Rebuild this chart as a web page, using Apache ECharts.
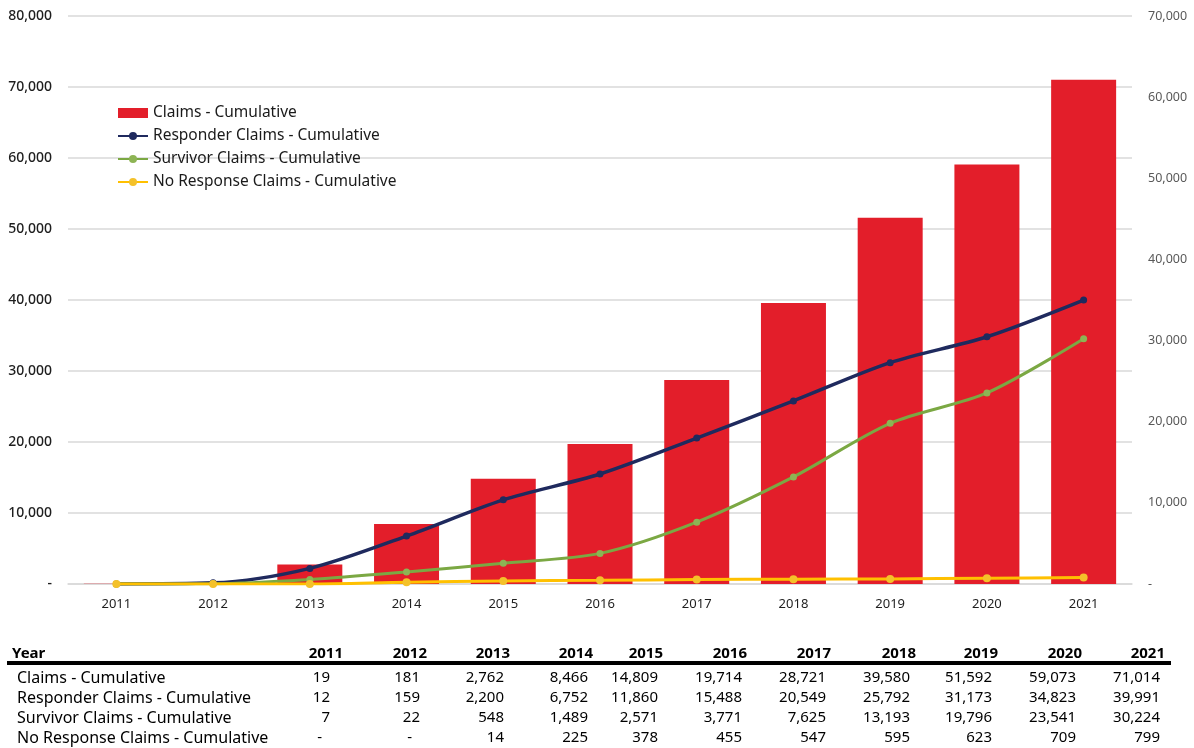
<!DOCTYPE html>
<html>
<head>
<meta charset="utf-8">
<script src="https://cdn.jsdelivr.net/npm/echarts@6/dist/echarts.min.js"></script>
<style>
  html, body { margin: 0; padding: 0; background: #ffffff; }
  #chart { width: 1194px; height: 748px; }
</style>
</head>
<body>
<div id="chart"></div>
<script>
// ---- data ----
const years = ['2011','2012','2013','2014','2015','2016','2017','2018','2019','2020','2021'];
const claimsCumulative = [19, 181, 2762, 8466, 14809, 19714, 28721, 39580, 51592, 59073, 71014];
const responderCumulative = [12, 159, 2200, 6752, 11860, 15488, 20549, 25792, 31173, 34823, 39991];
const survivorCumulative = [7, 22, 548, 1489, 2571, 3771, 7625, 13193, 19796, 23541, 30224];
const noResponseCumulative = [0, 0, 14, 225, 378, 455, 547, 595, 623, 709, 799];
const seriesNames = ['Claims - Cumulative', 'Responder Claims - Cumulative', 'Survivor Claims - Cumulative', 'No Response Claims - Cumulative'];
const tableHeader = 'Year';

// ---- layout / style (not data) ----
const FONT = 'Noto Sans';
const headerRight = [343, 427, 510, 593, 663, 747, 831, 916, 998, 1082, 1165];
const dataRight = [330, 420, 504, 588, 658, 742, 826, 910, 992, 1076, 1160];
const rowY = [678, 698, 718, 738];
const headerY = 654;

function fmt(v) { return v === 0 ? '-' : v.toLocaleString('en-US'); }

const tableRows = [claimsCumulative, responderCumulative, survivorCumulative, noResponseCumulative];
const graphics = [];
graphics.push({ type: 'text', x: 12, y: headerY, style: { text: tableHeader, font: 'bold 15px "' + FONT + '"', fill: '#000', align: 'left', verticalAlign: 'middle' } });
years.forEach((y, i) => {
  graphics.push({ type: 'text', x: headerRight[i], y: headerY, style: { text: y, font: 'bold 15px "' + FONT + '"', fill: '#000', align: 'right', verticalAlign: 'middle' } });
});
graphics.push({ type: 'line', shape: { x1: 7, y1: 663, x2: 1171, y2: 663 }, style: { stroke: '#000', lineWidth: 4 } });
tableRows.forEach((row, r) => {
  graphics.push({ type: 'text', x: 17, y: rowY[r], style: { text: seriesNames[r], font: '16px "' + FONT + '"', fill: '#000', align: 'left', verticalAlign: 'middle' } });
  row.forEach((v, i) => {
    const isDash = v === 0;
    graphics.push({ type: 'text', x: dataRight[i] - (isDash ? 8 : 0), y: rowY[r], style: { text: fmt(v), font: '15px "' + FONT + '"', fill: '#000', align: 'right', verticalAlign: 'middle' } });
  });
});

const chart = echarts.init(document.getElementById('chart'), null, { renderer: 'canvas' });
chart.setOption({
  animation: false,
  backgroundColor: '#ffffff',
  textStyle: { fontFamily: FONT },
  grid: { left: 68, right: 62, top: 16, bottom: 164, containLabel: false },
  legend: {
    orient: 'vertical', left: 112, top: 100,
    itemWidth: 30, itemHeight: 10, itemGap: 7,
    textStyle: { fontFamily: FONT, fontSize: 15.5, color: '#1a1a1a', lineHeight: 16 },
    data: [
      { name: seriesNames[0], icon: 'rect' },
      { name: seriesNames[1] },
      { name: seriesNames[2] },
      { name: seriesNames[3] }
    ]
  },
  xAxis: {
    type: 'category', data: years,
    axisLine: { show: true, lineStyle: { color: '#d9d9d9', width: 1.5 } },
    axisTick: { show: false },
    axisLabel: { fontFamily: FONT, fontSize: 13, color: '#1e1e1e', margin: 14 }
  },
  yAxis: [
    {
      type: 'value', min: 0, max: 80000, interval: 10000,
      axisLine: { show: false }, axisTick: { show: false },
      splitLine: { lineStyle: { color: '#d9d9d9', width: 1.5 } },
      axisLabel: { fontFamily: FONT, fontSize: 14, fontWeight: 500, color: '#1e1e1e', margin: 16, formatter: v => fmt(v) }
    },
    {
      type: 'value', min: 0, max: 70000, interval: 10000, position: 'right',
      axisLine: { show: false }, axisTick: { show: false }, splitLine: { show: false },
      axisLabel: { fontFamily: FONT, fontSize: 12.5, color: '#595959', margin: 16, formatter: v => fmt(v) }
    }
  ],
  series: [
    {
      name: seriesNames[0], type: 'bar', data: claimsCumulative, yAxisIndex: 0,
      barWidth: 65, itemStyle: { color: '#E31E2A' }
    },
    {
      name: seriesNames[1], type: 'line', data: responderCumulative, yAxisIndex: 0,
      smooth: 0.3, symbol: 'circle', symbolSize: 7,
      lineStyle: { color: '#1F2A5E', width: 3.5 }, itemStyle: { color: '#1F2A5E' }
    },
    {
      name: seriesNames[2], type: 'line', data: survivorCumulative, yAxisIndex: 1,
      smooth: 0.3, symbol: 'circle', symbolSize: 7,
      lineStyle: { color: '#7BA843', width: 3 }, itemStyle: { color: '#8DB454' }
    },
    {
      name: seriesNames[3], type: 'line', data: noResponseCumulative, yAxisIndex: 1,
      smooth: 0.3, symbol: 'circle', symbolSize: 8,
      lineStyle: { color: '#FFC000', width: 3 }, itemStyle: { color: '#F4C12A' }
    }
  ],
  graphic: graphics
});
</script>
</body>
</html>
